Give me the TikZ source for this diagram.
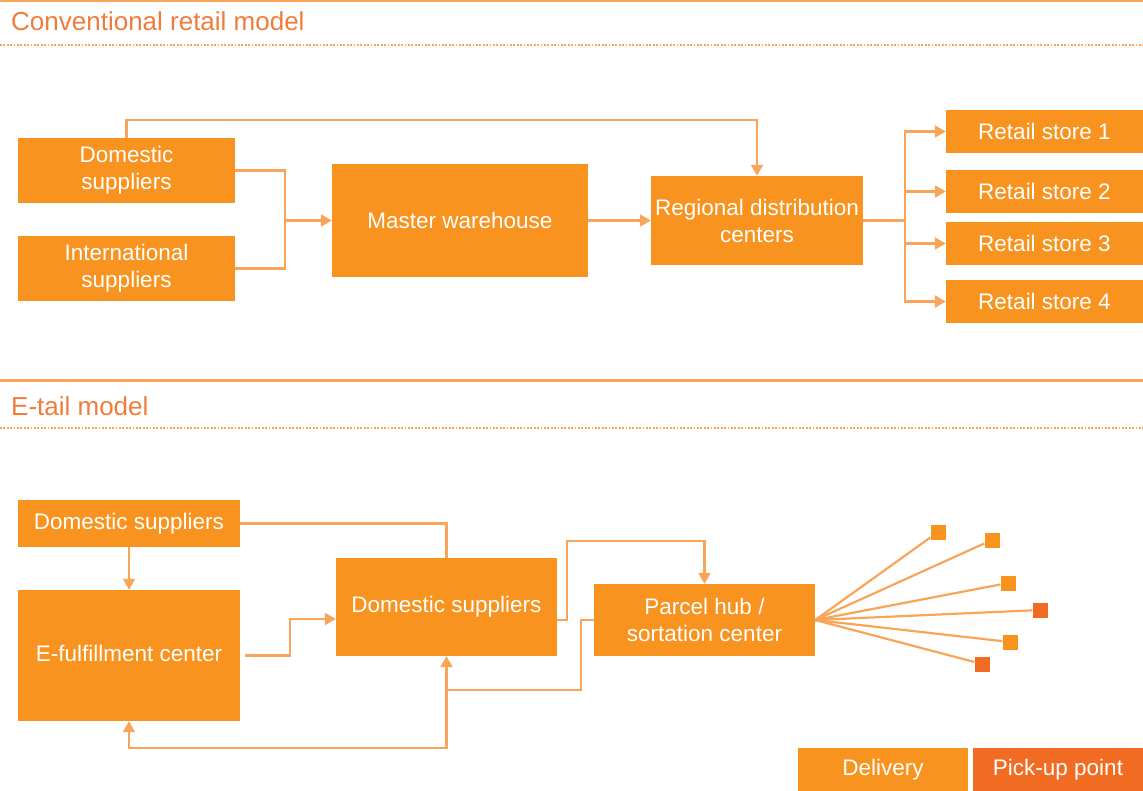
\documentclass[tikz,border=0pt]{standalone}
\usepackage{fontspec}
\setmainfont{Liberation Sans}
\usetikzlibrary{arrows.meta}
\definecolor{boxor}{HTML}{F7931E}
\definecolor{pickor}{HTML}{F26B22}
\definecolor{lineor}{HTML}{F8A55A}
\definecolor{titleor}{HTML}{F07C3C}
\begin{document}
\begin{tikzpicture}[x=1pt,y=-1pt,
  box/.style={rectangle, fill=boxor, draw=none, inner sep=0pt, text=white, align=center,
    font=\fontsize{22.5}{27}\selectfont},
  sq/.style={rectangle, fill=boxor, draw=none, inner sep=0pt, minimum width=15pt, minimum height=15pt},
  conn/.style={draw=lineor, line width=2.2pt},
  arr/.style={conn, -{Triangle[length=11pt,width=12pt]}},
  ttl/.style={text=titleor, anchor=base west, inner sep=0pt, font=\fontsize{26}{30}\selectfont},
  dotln/.style={draw=lineor, line width=2.6pt, dash pattern=on 1.8pt off 1.6pt},
]
\useasboundingbox (0,0) rectangle (1143,791);
% section rules
\draw[draw=lineor, line width=1.5pt] (0,1) -- (1143,1);
\node[ttl] (t1) at (11,31) {Conventional retail model};
\draw[dotln] (0,45) -- (1143,45);
\draw[draw=lineor, line width=3pt] (0,381) -- (1143,381);
\node[ttl] (t2) at (11,415) {E-tail model};
\draw[dotln] (0,428) -- (1143,428);

% conventional model
\node[box, minimum width=217pt, minimum height=65pt] (ds) at (126.5,170.5) {Domestic\\suppliers};
\node[box, minimum width=217pt, minimum height=65pt] (is) at (126.5,268.5) {International\\suppliers};
\node[box, minimum width=256pt, minimum height=113pt] (mw) at (460,220.5) {Master warehouse};
\node[box, minimum width=212pt, minimum height=89pt] (rdc) at (757,220.5) {Regional distribution\\centers};
\node[box, minimum width=197pt, minimum height=43pt] (rs1) at (1044.5,131.5) {Retail store 1};
\node[box, minimum width=197pt, minimum height=43pt] (rs2) at (1044.5,191.5) {Retail store 2};
\node[box, minimum width=197pt, minimum height=43pt] (rs3) at (1044.5,243.5) {Retail store 3};
\node[box, minimum width=197pt, minimum height=43pt] (rs4) at (1044.5,301.5) {Retail store 4};

\coordinate (j1) at (285,220.5);
\draw[conn] (ds.east) -| (j1);
\draw[conn] (is.east) -| (j1);
\draw[arr] (j1) -- (mw.west);
\draw[arr] (ds.north) -- ++(0,-18) -| (rdc.north);
\draw[arr] (mw.east) -- (rdc.west);
\coordinate (bus) at (905,220.5);
\draw[conn] (rdc.east) -- (bus);
\draw[arr] (bus) |- (rs1.west);
\draw[arr] (bus) |- (rs2.west);
\draw[arr] (bus) |- (rs3.west);
\draw[arr] (bus) |- (rs4.west);

% e-tail model
\node[box, minimum width=222pt, minimum height=47pt] (ds2) at (129,523.5) {Domestic suppliers};
\node[box, minimum width=222pt, minimum height=131pt] (ef) at (129,655.5) {\raisebox{4pt}{E-fulfillment center}};
\node[box, minimum width=221pt, minimum height=98pt] (ds3) at (446.5,607) {Domestic suppliers};
\node[box, minimum width=221pt, minimum height=72pt] (ph) at (704.5,620) {Parcel hub /\\sortation center};

\draw[conn] (ds2.east) -| (ds3.north);
\draw[arr] (ds2.south) -- (ef.north);
\draw[arr] ([xshift=5pt]ef.east) -- (290,655.5) |- ([yshift=-12pt]ds3.west);
\draw[arr] ([yshift=-13pt]ds3.east) -- ++(10,0) -- ++(0,-79) -| (ph.north);
\coordinate (k) at (446.5,690);
\draw[conn] (ph.west) -- ++(-13,0) |- (k);
\draw[arr] (k) -- (ds3.south);
\draw[arr] (k) -- ++(0,58) -| (ef.south);

% fan-out to delivery / pick-up points
\node[sq] (p1) at (938,532) {};
\node[sq] (p2) at (992,540) {};
\node[sq] (p3) at (1008,583) {};
\node[sq, fill=pickor] (p4) at (1040,610) {};
\node[sq] (p5) at (1010,642) {};
\node[sq, fill=pickor] (p6) at (982,664) {};
\foreach \p in {p1,p2,p3,p4,p5,p6} \draw[conn] (ph.east) -- (\p);

% legend
\node[box, minimum width=170pt, minimum height=43pt] (lg1) at (883,769.5) {Delivery};
\node[box, fill=pickor, minimum width=170pt, minimum height=43pt] (lg2) at (1058,769.5) {Pick-up point};
\end{tikzpicture}
\end{document}
